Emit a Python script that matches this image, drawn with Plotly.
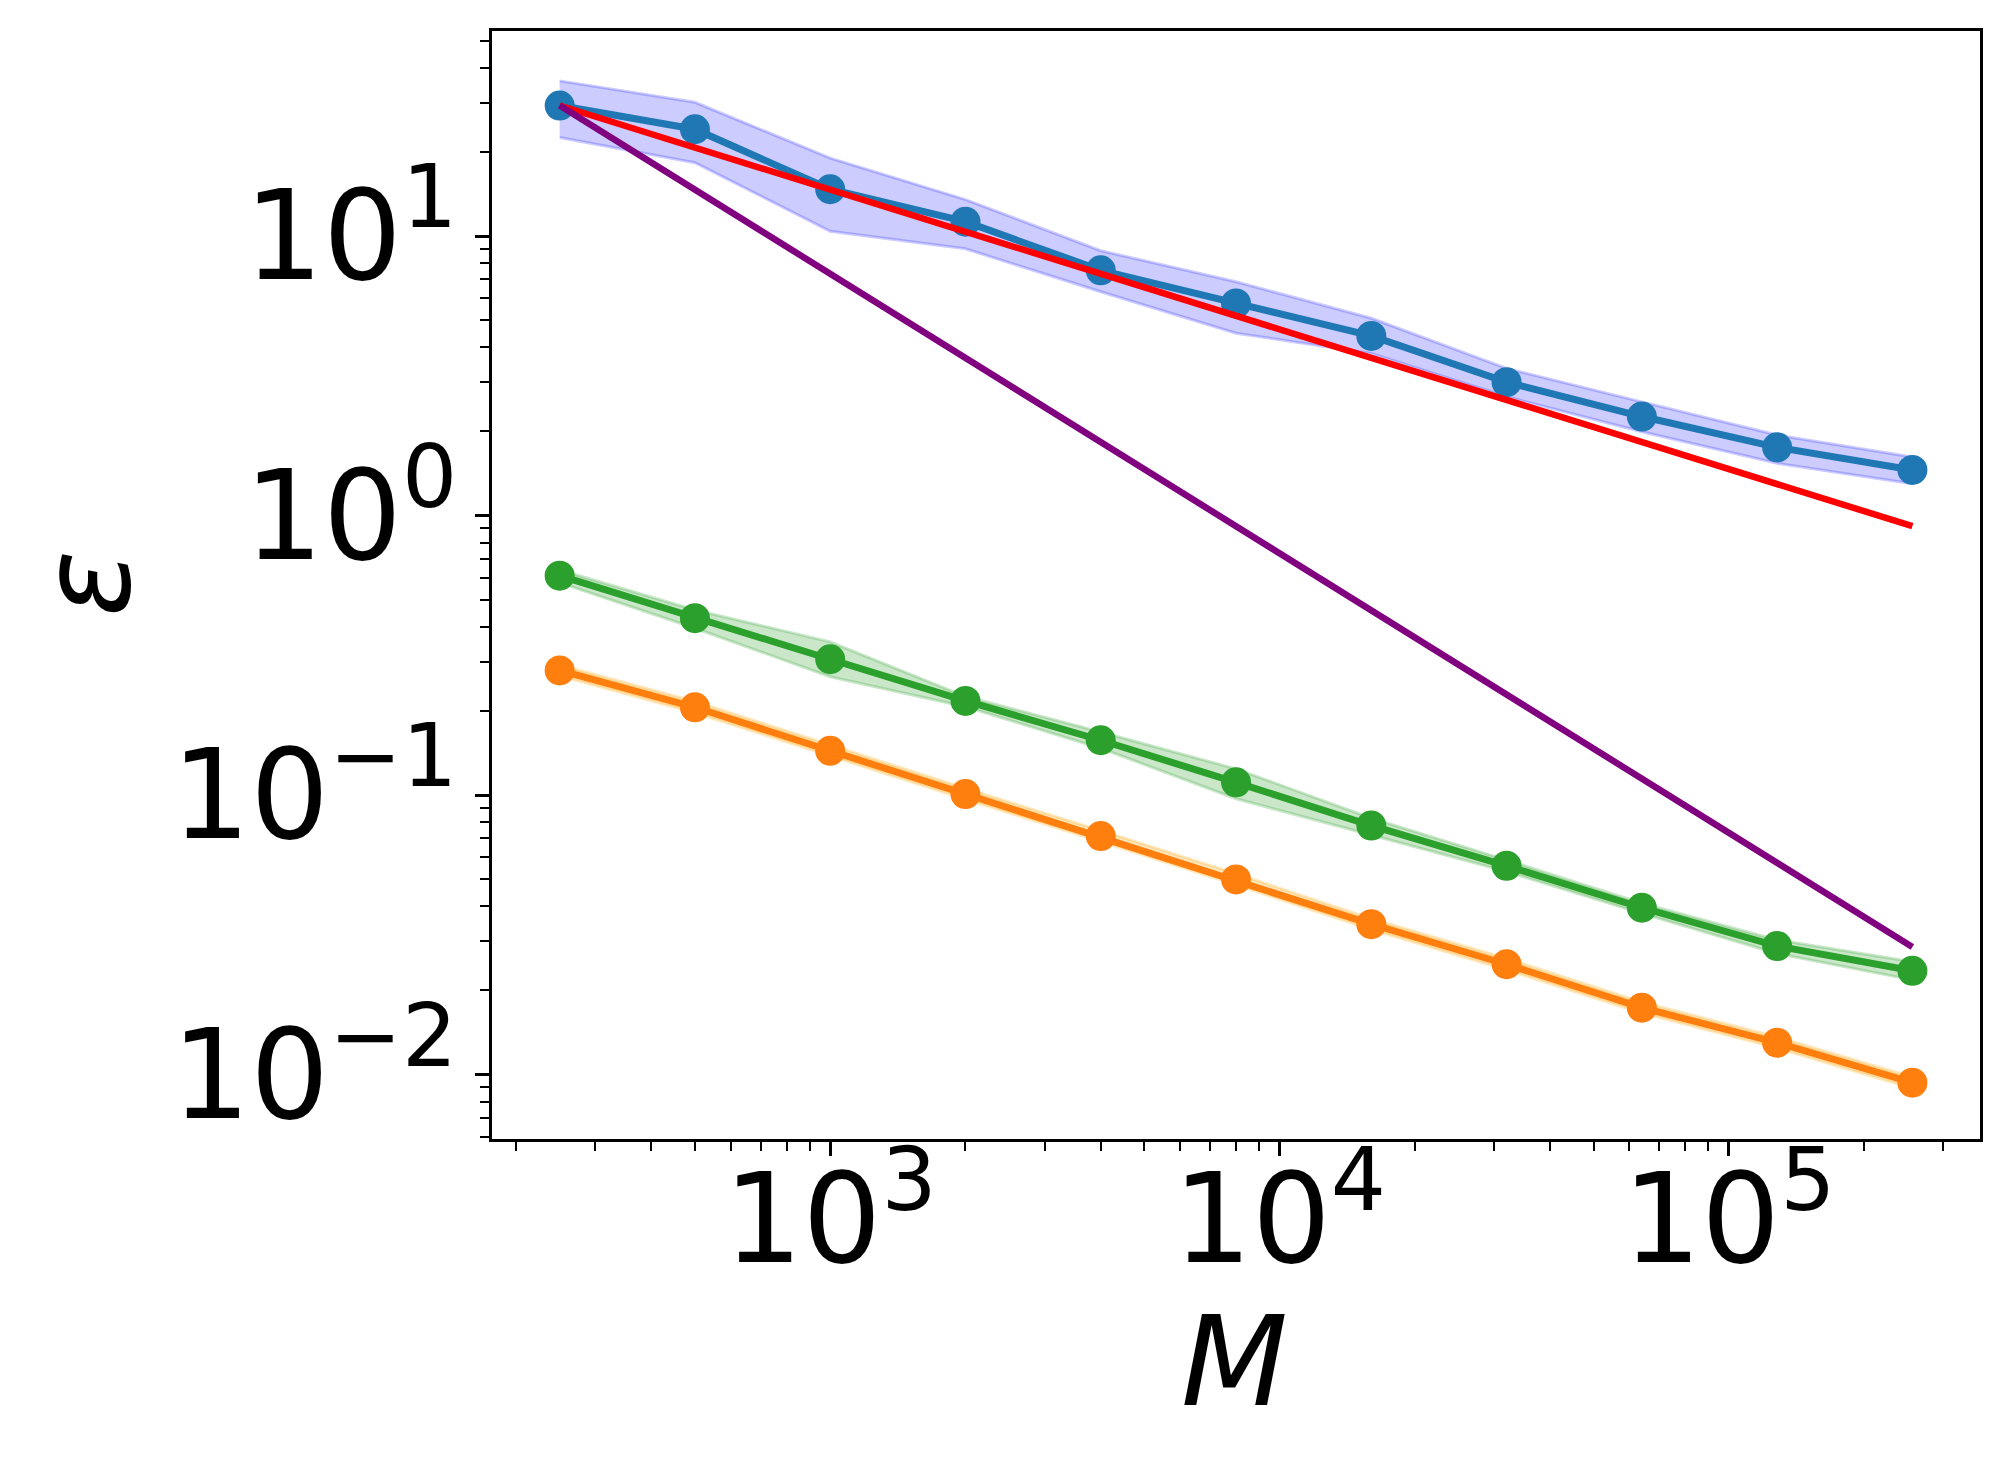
import plotly.graph_objects as go

# ---- data ----
M = [250, 500, 1000, 2000, 4000, 8000, 16000, 32000, 64000, 128000, 256000]

blue_mean = [29.3, 24.1, 14.7, 11.25, 7.54, 5.74, 4.39, 3.00, 2.26, 1.754, 1.455]
blue_upper = [35.9, 30.1, 19.0, 13.5, 8.86, 6.86, 5.08, 3.36, 2.55, 1.94, 1.62]
blue_lower = [22.5, 18.3, 10.4, 9.0, 6.32, 4.49, 3.80, 2.66, 1.995, 1.537, 1.30]

green_mean = [0.609, 0.429, 0.306, 0.217, 0.157, 0.111, 0.0777, 0.0558, 0.0395, 0.0288, 0.0235]
green_upper = [0.638, 0.459, 0.353, 0.225, 0.168, 0.124, 0.0826, 0.0585, 0.0410, 0.0303, 0.0253]
green_lower = [0.575, 0.395, 0.265, 0.207, 0.147, 0.097, 0.0719, 0.0532, 0.0377, 0.0271, 0.0218]

orange_mean = [0.279, 0.206, 0.144, 0.1008, 0.0713, 0.0499, 0.0345, 0.0248, 0.01734, 0.0130, 0.00935]
orange_upper = [0.292, 0.216, 0.151, 0.1055, 0.0746, 0.0523, 0.0361, 0.0260, 0.01815, 0.01362, 0.00980]
orange_lower = [0.267, 0.197, 0.138, 0.0965, 0.0682, 0.0477, 0.0330, 0.0237, 0.01660, 0.01243, 0.00893]

# reference slope lines (endpoints)
ref_M = [250, 256000]
red_y = [29.3, 0.916]      # slope -1/2
purple_y = [29.3, 0.0286]  # slope -1

x_tickvals = [1e3, 1e4, 1e5]
x_ticktext = ["10<sup>3</sup>", "10<sup>4</sup>", "10<sup>5</sup>"]
y_tickvals = [1e-2, 1e-1, 1e0, 1e1]
y_ticktext = ["10<sup>\u22122</sup>", "10<sup>\u22121</sup>", "10<sup>0</sup>", "10<sup>1</sup>"]

x_minor = [m * 10 ** e for e in range(2, 6) for m in range(2, 10)]
y_minor = [m * 10.0 ** e for e in range(-3, 2) for m in range(2, 10)]

FONT = "DejaVu Sans"

fig = go.Figure()


def band(upper, lower, fill, edge):
    fig.add_trace(go.Scatter(x=M, y=upper, mode="lines",
                             line=dict(color=edge, width=3),
                             showlegend=False, hoverinfo="skip"))
    fig.add_trace(go.Scatter(x=M, y=lower, mode="lines", fill="tonexty",
                             fillcolor=fill, line=dict(color=edge, width=3),
                             showlegend=False, hoverinfo="skip"))


def series(y, color):
    fig.add_trace(go.Scatter(x=M, y=y, mode="lines+markers",
                             line=dict(color=color, width=7),
                             marker=dict(color=color, size=30),
                             showlegend=False))


band(blue_upper, blue_lower, "rgba(0,0,255,0.2)", "rgba(0,0,255,0.2)")
series(blue_mean, "#1f77b4")
band(green_upper, green_lower, "rgba(44,160,44,0.25)", "rgba(44,160,44,0.25)")
series(green_mean, "#2ca02c")
band(orange_upper, orange_lower, "rgba(255,165,0,0.25)", "rgba(255,165,0,0.25)")
series(orange_mean, "#ff7f0e")

fig.add_trace(go.Scatter(x=ref_M, y=red_y, mode="lines",
                         line=dict(color="red", width=6.5), showlegend=False))
fig.add_trace(go.Scatter(x=ref_M, y=purple_y, mode="lines",
                         line=dict(color="purple", width=6.5), showlegend=False))

axis_common = dict(
    showline=True, linecolor="black", linewidth=3, mirror=True,
    showgrid=False, zeroline=False,
    ticks="outside", ticklen=14, tickwidth=3, tickcolor="black",
    tickfont=dict(family=FONT, size=124, color="black"),
    tickmode="array",
)

fig.update_xaxes(
    type="log", range=[2.2474, 5.5587],
    tickvals=x_tickvals, ticktext=x_ticktext,
    minor=dict(tickmode="array", tickvals=x_minor, ticks="outside",
               ticklen=9, tickwidth=2, tickcolor="black", showgrid=False),
    ticklabelstandoff=-43,
    **axis_common,
)
fig.update_yaxes(
    type="log", range=[-2.2308, 1.7335],
    tickvals=y_tickvals, ticktext=y_ticktext,
    minor=dict(tickmode="array", tickvals=y_minor, ticks="outside",
               ticklen=9, tickwidth=2, tickcolor="black", showgrid=False),
    ticklabelstandoff=-7,
    **axis_common,
)

L, R, T, B = 492, 31, 31, 318
W, H = 2011, 1457
pw, ph = W - L - R, H - T - B


def px(x):
    return (x - L) / pw


def py(y):
    return (H - B - y) / ph


fig.add_annotation(x=px(1234), y=py(1362), xref="paper", yref="paper",
                   text="<i>M</i>", showarrow=False,
                   font=dict(family=FONT, size=124, color="black"),
                   xanchor="center", yanchor="middle")
fig.add_annotation(x=px(86), y=py(584), xref="paper", yref="paper",
                   text="<i>\u03b5</i>", showarrow=False, textangle=-90,
                   font=dict(family=FONT, size=124, color="black"),
                   xanchor="center", yanchor="middle")

fig.update_layout(
    width=W, height=H,
    margin=dict(l=L, r=R, t=T, b=B),
    paper_bgcolor="white", plot_bgcolor="white",
    showlegend=False,
)

fig.write_html("out.html")
